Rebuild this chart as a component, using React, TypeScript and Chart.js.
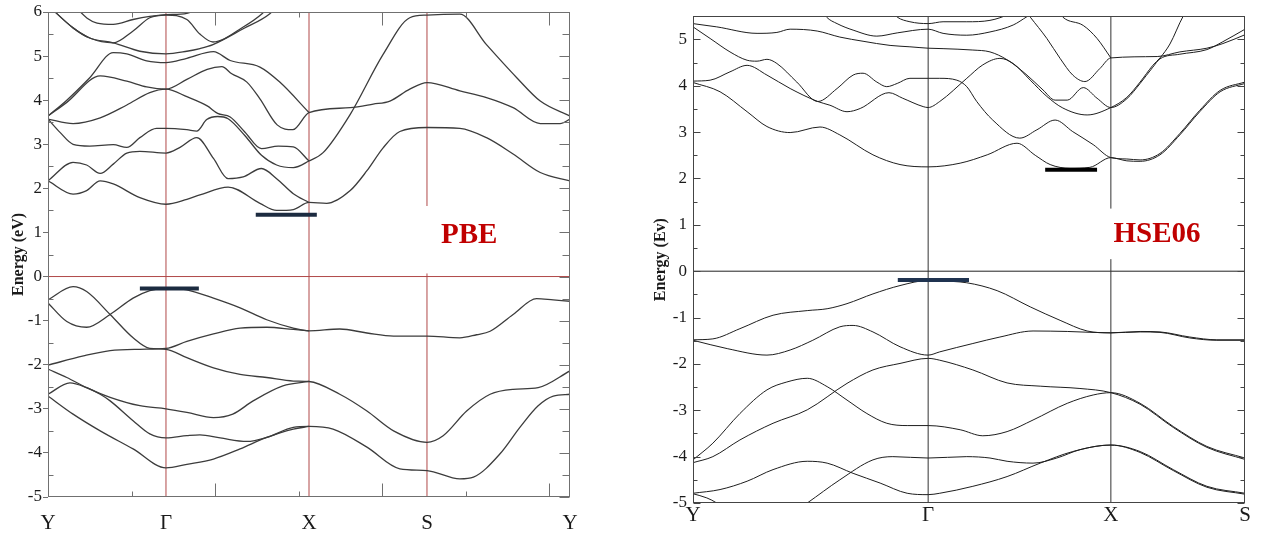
import React, { useEffect, useRef } from "react";
import { Chart, registerables } from "chart.js";

Chart.register(...registerables);

type Pt = [number, number];

// ================= PBE panel (left) =================
const pbeKPoints = [0, 0.226, 0.5, 0.726, 1];
const pbeKLabels = ["Y", "Γ", "X", "S", "Y"];
const pbeEnergyTicks = [-5, -4, -3, -2, -1, 0, 1, 2, 3, 4, 5, 6];

const pbeConduction: Pt[][] = [
  [[0, 2.17], [0.048, 1.87], [0.074, 1.95], [0.1, 2.17], [0.125, 2.1], [0.176, 1.79], [0.226, 1.64], [0.266, 1.75], [0.291, 1.85], [0.345, 2.03], [0.406, 1.66], [0.438, 1.5], [0.47, 1.52], [0.5, 1.68], [0.534, 1.66], [0.579, 1.95], [0.611, 2.4], [0.642, 2.92], [0.674, 3.29], [0.726, 3.38], [0.789, 3.36], [0.84, 3.15], [0.891, 2.78], [0.943, 2.36], [1, 2.17]],
  [[0, 2.17], [0.048, 2.59], [0.074, 2.53], [0.1, 2.34], [0.125, 2.55], [0.151, 2.8], [0.176, 2.84], [0.226, 2.8], [0.253, 2.93], [0.285, 3.15], [0.317, 2.68], [0.345, 2.22], [0.374, 2.26], [0.409, 2.45], [0.438, 2.22], [0.47, 1.88], [0.5, 1.68]],
  [[0, 3.57], [0.023, 3.27], [0.048, 3.0], [0.08, 2.96], [0.125, 2.99], [0.151, 2.93], [0.176, 3.15], [0.208, 3.36], [0.226, 3.36], [0.266, 3.33], [0.285, 3.3], [0.304, 3.56], [0.325, 3.63], [0.345, 3.58], [0.377, 3.2], [0.409, 2.75], [0.438, 2.53], [0.47, 2.47], [0.5, 2.62], [0.527, 2.81], [0.579, 3.68], [0.642, 5.04], [0.693, 5.87], [0.726, 5.93], [0.789, 5.95], [0.84, 5.26], [0.898, 4.51], [0.943, 3.98], [1, 3.64]],
  [[0, 3.57], [0.048, 3.47], [0.1, 3.6], [0.151, 3.89], [0.195, 4.17], [0.226, 4.25], [0.266, 4.08], [0.305, 3.87], [0.325, 3.7], [0.349, 3.62], [0.377, 3.28], [0.409, 2.9], [0.441, 2.96], [0.47, 2.94], [0.5, 2.62]],
  [[0, 3.64], [0.036, 3.95], [0.1, 4.55], [0.151, 4.43], [0.189, 4.3], [0.226, 4.25], [0.266, 4.47], [0.305, 4.7], [0.333, 4.76], [0.352, 4.6], [0.381, 4.41], [0.406, 4.03], [0.439, 3.44], [0.469, 3.33], [0.5, 3.72], [0.579, 3.83], [0.623, 3.91], [0.655, 3.98], [0.693, 4.25], [0.726, 4.4], [0.789, 4.21], [0.84, 4.06], [0.891, 3.83], [0.943, 3.47], [0.981, 3.47], [1, 3.57]],
  [[0, 3.64], [0.036, 4.0], [0.08, 4.51], [0.125, 5.08], [0.151, 5.05], [0.189, 4.89], [0.226, 4.85], [0.266, 4.95], [0.317, 5.1], [0.349, 4.9], [0.406, 4.75], [0.444, 4.41], [0.5, 3.72]],
  [[0, 6.15], [0.048, 5.64], [0.08, 5.41], [0.125, 5.3], [0.176, 5.11], [0.226, 5.05], [0.266, 5.11], [0.291, 5.17], [0.316, 5.26], [0.374, 5.62], [0.425, 5.96], [0.44, 6.15]],
  [[0, 6.15], [0.048, 5.64], [0.08, 5.41], [0.125, 5.3], [0.163, 5.57], [0.195, 5.87], [0.226, 5.93], [0.266, 5.83], [0.291, 5.5], [0.316, 5.32], [0.374, 5.66], [0.41, 5.96], [0.425, 6.15]],
  [[0.05, 6.15], [0.075, 5.86], [0.094, 5.75], [0.125, 5.72], [0.163, 5.83], [0.195, 5.9], [0.226, 5.94], [0.266, 5.97], [0.3, 6.15]],
];

const pbeValence: Pt[][] = [
  [[0, -0.6], [0.036, -1.02], [0.074, -1.15], [0.119, -0.86], [0.163, -0.49], [0.195, -0.32], [0.226, -0.26], [0.266, -0.3], [0.317, -0.49], [0.368, -0.71], [0.419, -0.98], [0.47, -1.17], [0.5, -1.23], [0.559, -1.19], [0.611, -1.28], [0.662, -1.35], [0.726, -1.35], [0.789, -1.39], [0.821, -1.32], [0.847, -1.24], [0.891, -0.86], [0.936, -0.5], [0.968, -0.53], [1, -0.56]],
  [[0, -0.53], [0.048, -0.23], [0.074, -0.34], [0.119, -0.86], [0.163, -1.39], [0.195, -1.63], [0.226, -1.65], [0.266, -1.84], [0.317, -2.07], [0.368, -2.22], [0.419, -2.29], [0.47, -2.37], [0.5, -2.38], [0.559, -2.67], [0.611, -3.05], [0.662, -3.5], [0.726, -3.76], [0.757, -3.61], [0.802, -3.05], [0.847, -2.67], [0.891, -2.56], [0.939, -2.52], [1, -2.14]],
  [[0, -2.01], [0.068, -1.8], [0.119, -1.68], [0.176, -1.65], [0.226, -1.63], [0.266, -1.47], [0.317, -1.3], [0.368, -1.17], [0.419, -1.15], [0.47, -1.2], [0.5, -1.23]],
  [[0, -2.1], [0.036, -2.29], [0.074, -2.52], [0.119, -2.74], [0.176, -2.93], [0.226, -3.0], [0.266, -3.08], [0.317, -3.2], [0.354, -3.12], [0.393, -2.82], [0.45, -2.48], [0.5, -2.38]],
  [[0, -2.67], [0.042, -2.41], [0.074, -2.52], [0.1, -2.67], [0.119, -2.82], [0.163, -3.27], [0.195, -3.57], [0.226, -3.66], [0.266, -3.61], [0.291, -3.59], [0.33, -3.66], [0.381, -3.74], [0.419, -3.65], [0.47, -3.42], [0.5, -3.4], [0.546, -3.46], [0.611, -3.87], [0.674, -4.36], [0.726, -4.4], [0.789, -4.59], [0.815, -4.55], [0.866, -4.02], [0.904, -3.42], [0.939, -2.93], [0.968, -2.71], [1, -2.67]],
  [[0, -2.71], [0.048, -3.12], [0.1, -3.5], [0.163, -3.91], [0.226, -4.34], [0.266, -4.26], [0.317, -4.14], [0.368, -3.91], [0.419, -3.65], [0.47, -3.46], [0.5, -3.4]],
];

const pbeVBM: Pt[] = [[0.176, -0.27], [0.289, -0.27]];
const pbeCBM: Pt[] = [[0.398, 1.4], [0.515, 1.4]];
const pbeLineGap: Pt = [0.07, 1.6]; // break in the S line around the label

// ================= HSE06 panel (right) =================
const hseKPoints = [0, 0.426, 0.757, 1];
const hseKLabels = ["Y", "Γ", "X", "S"];
const hseEnergyTicks = [-5, -4, -3, -2, -1, 0, 1, 2, 3, 4, 5];

const hseConduction: Pt[][] = [
  [[0, 4.07], [0.049, 3.87], [0.098, 3.44], [0.134, 3.12], [0.176, 2.99], [0.23, 3.11], [0.266, 2.94], [0.326, 2.51], [0.375, 2.3], [0.426, 2.25], [0.484, 2.33], [0.533, 2.51], [0.587, 2.76], [0.62, 2.5], [0.647, 2.3], [0.683, 2.22], [0.719, 2.24], [0.757, 2.45], [0.786, 2.38], [0.81, 2.37], [0.846, 2.51], [0.882, 2.94], [0.918, 3.44], [0.955, 3.87], [1, 4.05]],
  [[0, 4.1], [0.031, 4.12], [0.067, 4.3], [0.098, 4.44], [0.134, 4.23], [0.176, 3.94], [0.226, 3.66], [0.248, 3.58], [0.279, 3.44], [0.303, 3.51], [0.355, 3.85], [0.38, 3.73], [0.417, 3.55], [0.426, 3.53], [0.447, 3.66], [0.496, 4.16], [0.525, 4.45], [0.556, 4.59], [0.58, 4.48], [0.611, 4.12], [0.641, 3.77], [0.67, 3.52], [0.714, 3.37], [0.757, 3.53], [0.786, 3.75], [0.81, 4.08], [0.833, 4.44], [0.846, 4.6], [0.864, 4.9], [0.888, 5.5], [0.9, 5.7]],
  [[0, 5.27], [0.031, 5.02], [0.067, 4.73], [0.098, 4.55], [0.116, 4.53], [0.134, 4.57], [0.152, 4.48], [0.188, 4.08], [0.226, 3.66], [0.261, 3.94], [0.29, 4.23], [0.308, 4.27], [0.333, 4.08], [0.351, 3.98], [0.37, 4.05], [0.393, 4.16], [0.426, 4.16], [0.447, 4.16], [0.478, 4.12], [0.496, 3.98], [0.514, 3.66], [0.543, 3.26], [0.592, 2.87], [0.623, 3.05], [0.656, 3.26], [0.688, 3.01], [0.725, 2.73], [0.757, 2.45], [0.786, 2.42], [0.81, 2.4], [0.846, 2.54], [0.882, 2.97], [0.918, 3.47], [0.955, 3.9], [1, 4.08]],
  [[0, 5.34], [0.043, 5.27], [0.116, 5.13], [0.152, 5.15], [0.176, 5.22], [0.225, 5.18], [0.266, 5.05], [0.308, 4.96], [0.357, 4.87], [0.393, 4.84], [0.426, 4.81], [0.453, 4.8], [0.507, 4.77], [0.538, 4.73], [0.569, 4.56], [0.605, 4.23], [0.634, 3.91], [0.656, 3.69], [0.678, 3.69], [0.707, 3.96], [0.732, 3.73], [0.757, 3.53], [0.786, 3.72], [0.81, 4.05], [0.833, 4.4], [0.846, 4.58], [0.882, 4.68], [0.931, 4.78], [0.96, 4.95], [1, 5.22]],
  [[0.235, 5.6], [0.242, 5.48], [0.261, 5.34], [0.29, 5.2], [0.333, 5.07], [0.37, 5.14], [0.426, 5.22], [0.453, 5.13], [0.496, 5.09], [0.538, 5.16], [0.58, 5.31], [0.605, 5.49], [0.62, 5.6]],
  [[0.36, 5.6], [0.37, 5.48], [0.393, 5.38], [0.426, 5.34], [0.453, 5.38], [0.496, 5.38], [0.538, 5.41], [0.574, 5.55], [0.59, 5.65]],
  [[0.6, 5.65], [0.611, 5.48], [0.641, 5.02], [0.665, 4.59], [0.688, 4.23], [0.71, 4.09], [0.737, 4.37], [0.757, 4.6], [0.841, 4.63], [0.882, 4.73], [0.931, 4.81], [0.96, 4.91], [1, 5.1]],
  [[0.66, 5.65], [0.67, 5.48], [0.707, 5.3], [0.732, 5.02], [0.757, 4.6]],
];

const hseValence: Pt[][] = [
  [[0, -1.48], [0.036, -1.46], [0.085, -1.24], [0.145, -0.95], [0.207, -0.85], [0.243, -0.81], [0.279, -0.7], [0.326, -0.49], [0.375, -0.31], [0.426, -0.2], [0.447, -0.21], [0.496, -0.25], [0.551, -0.42], [0.611, -0.77], [0.665, -1.06], [0.714, -1.29], [0.757, -1.33], [0.81, -1.3], [0.846, -1.31], [0.9, -1.42], [0.949, -1.48], [1, -1.48]],
  [[0, -1.49], [0.062, -1.67], [0.134, -1.81], [0.176, -1.7], [0.217, -1.49], [0.266, -1.2], [0.29, -1.17], [0.326, -1.31], [0.375, -1.63], [0.426, -1.81], [0.447, -1.74], [0.507, -1.56], [0.556, -1.42], [0.616, -1.29], [0.678, -1.3], [0.757, -1.33], [0.81, -1.31], [0.846, -1.32], [0.9, -1.44], [0.949, -1.49], [1, -1.49]],
  [[0, -4.07], [0.036, -3.71], [0.085, -3.07], [0.134, -2.56], [0.17, -2.39], [0.207, -2.31], [0.243, -2.49], [0.279, -2.78], [0.315, -3.07], [0.351, -3.28], [0.388, -3.33], [0.426, -3.33], [0.484, -3.42], [0.525, -3.55], [0.569, -3.46], [0.616, -3.21], [0.678, -2.85], [0.725, -2.67], [0.757, -2.62], [0.81, -2.85], [0.87, -3.35], [0.931, -3.78], [1, -4.03]],
  [[0, -4.13], [0.036, -4.0], [0.085, -3.64], [0.145, -3.28], [0.207, -2.99], [0.279, -2.42], [0.326, -2.13], [0.375, -1.99], [0.426, -1.88], [0.447, -1.92], [0.507, -2.13], [0.569, -2.41], [0.629, -2.48], [0.701, -2.53], [0.757, -2.62], [0.81, -2.87], [0.87, -3.37], [0.931, -3.8], [1, -4.06]],
  [[0, -4.79], [0.049, -4.71], [0.098, -4.53], [0.145, -4.28], [0.207, -4.1], [0.243, -4.14], [0.29, -4.36], [0.339, -4.57], [0.388, -4.79], [0.426, -4.82], [0.447, -4.79], [0.507, -4.64], [0.569, -4.43], [0.629, -4.14], [0.688, -3.89], [0.757, -3.75], [0.81, -3.89], [0.87, -4.28], [0.931, -4.64], [1, -4.79]],
  [[0.17, -5.3], [0.207, -5.0], [0.266, -4.5], [0.326, -4.07], [0.362, -4.0], [0.426, -4.03], [0.496, -4.0], [0.538, -4.03], [0.569, -4.1], [0.616, -4.14], [0.659, -4.03], [0.701, -3.85], [0.757, -3.75], [0.81, -3.91], [0.87, -4.3], [0.931, -4.66], [1, -4.81]],
  [[0, -4.8], [0.025, -4.89], [0.043, -5.0], [0.07, -5.25]],
];

const hseVBM: Pt[] = [[0.371, -0.19], [0.5, -0.19]];
const hseCBM: Pt[] = [[0.638, 2.19], [0.732, 2.19]];
const hseLineGap: Pt = [0.26, 1.35]; // break in the X line around the label

// ================= helpers =================
const SERIF = "'Liberation Serif', 'Times New Roman', serif";

const toXY = (pts: Pt[]) => pts.map(([x, y]) => ({ x, y }));

function straight(pts: Pt[], color: string, width: number, order: number) {
  return {
    data: toXY(pts),
    borderColor: color,
    borderWidth: width,
    pointRadius: 0,
    tension: 0,
    fill: false,
    order,
  };
}

function band(pts: Pt[], color: string, width: number) {
  return {
    data: toXY(pts),
    borderColor: color,
    borderWidth: width,
    pointRadius: 0,
    cubicInterpolationMode: "monotone",
    fill: false,
    order: 5,
  };
}

const panelDecor = {
  id: "panelDecor",
  afterDatasetsDraw(chart: any, _args: any, o: any) {
    const { ctx, chartArea: a, scales } = chart;
    const xs = scales.x;
    const ys = scales.y;
    ctx.save();
    ctx.strokeStyle = o.frameColor;
    ctx.lineWidth = 1;
    const L = Math.round(a.left) + 0.5;
    const R = Math.round(a.right) - 0.5;
    const T = Math.round(a.top) + 0.5;
    const B = Math.round(a.bottom) - 0.5;
    ctx.strokeRect(L, T, R - L, B - T);
    ctx.beginPath();
    for (let v = ys.min; v <= ys.max + 1e-9; v += 0.5) {
      const y = Math.round(ys.getPixelForValue(v)) + 0.5;
      const major = Math.abs(v - Math.round(v)) < 1e-6;
      const lL = major ? o.leftMajor : o.leftMinor;
      const rL = major ? o.rightMajor : o.rightMinor;
      if (lL) {
        ctx.moveTo(L, y);
        ctx.lineTo(L + lL, y);
      }
      if (rL) {
        ctx.moveTo(R, y);
        ctx.lineTo(R - rL, y);
      }
    }
    const xt: [number[], number][] = [
      [o.xMajorAt || [], o.xMajor || 0],
      [o.xMinorAt || [], o.xMinor || 0],
    ];
    for (const [list, len] of xt) {
      for (const k of list) {
        const x = Math.round(xs.getPixelForValue(k)) + 0.5;
        ctx.moveTo(x, T);
        ctx.lineTo(x, T + len);
        ctx.moveTo(x, B);
        ctx.lineTo(x, B - len);
      }
    }
    ctx.stroke();
    ctx.fillStyle = o.labelColor;
    ctx.font = o.labelFont;
    ctx.textAlign = "center";
    ctx.textBaseline = "middle";
    ctx.fillText(o.label, xs.getPixelForValue(o.labelAt[0]), ys.getPixelForValue(o.labelAt[1]));
    ctx.restore();
  },
};

interface Panel {
  kPoints: number[];
  kLabels: string[];
  eTicks: number[];
  eMin: number;
  eMax: number;
  conduction: Pt[][];
  valence: Pt[][];
  vbm: Pt[];
  cbm: Pt[];
  gapAt: number;
  gap: Pt;
  title: string;
  label: string;
  labelAt: Pt;
  bandColor: string;
  bandWidth: number;
  lineColor: string;
  zeroColor: string;
  vbmColor: string;
  cbmColor: string;
  frameColor: string;
  yAxisWidth: number;
  xAxisHeight: number;
  padding: { left: number; right: number; top: number; bottom: number };
  yTickPad: number;
  yTickMark: number;
  xTickPad: number;
  titlePad: number;
  decor: any;
}

function buildConfig(p: Panel): any {
  const datasets: any[] = [];
  p.kPoints.forEach((k, i) => {
    if (i === 0 || i === p.kPoints.length - 1) return;
    if (i === p.gapAt) {
      datasets.push(straight([[k, p.eMin], [k, p.gap[0]]], p.lineColor, 1, 10));
      datasets.push(straight([[k, p.gap[1]], [k, p.eMax]], p.lineColor, 1, 10));
    } else {
      datasets.push(straight([[k, p.eMin], [k, p.eMax]], p.lineColor, 1, 10));
    }
  });
  datasets.push(straight([[0, 0], [1, 0]], p.zeroColor, 1, 10));
  for (const b of p.conduction) datasets.push(band(b, p.bandColor, p.bandWidth));
  for (const b of p.valence) datasets.push(band(b, p.bandColor, p.bandWidth));
  datasets.push(straight(p.vbm, p.vbmColor, 4, 0));
  datasets.push(straight(p.cbm, p.cbmColor, 4, 0));

  return {
    type: "line",
    data: { datasets },
    options: {
      responsive: false,
      animation: false,
      devicePixelRatio: 1,
      layout: { padding: p.padding },
      plugins: {
        legend: { display: false },
        tooltip: { enabled: false },
        panelDecor: { ...p.decor, label: p.label, labelAt: p.labelAt },
      },
      scales: {
        x: {
          type: "linear",
          min: 0,
          max: 1,
          afterBuildTicks: (s: any) => {
            s.ticks = p.kPoints.map((v) => ({ value: v }));
          },
          afterFit: (s: any) => {
            s.height = p.xAxisHeight;
          },
          ticks: {
            autoSkip: false,
            maxRotation: 0,
            padding: p.xTickPad,
            color: "#1a1a1a",
            font: { family: SERIF, size: 21 },
            callback: (_v: any, i: number) => p.kLabels[i],
          },
          grid: { display: false, drawTicks: false },
          border: { display: false },
        },
        y: {
          type: "linear",
          min: p.eMin,
          max: p.eMax,
          afterBuildTicks: (s: any) => {
            s.ticks = p.eTicks.map((v) => ({ value: v }));
          },
          afterFit: (s: any) => {
            s.width = p.yAxisWidth;
          },
          ticks: {
            padding: p.yTickPad,
            color: "#1a1a1a",
            font: { family: SERIF, size: 17 },
            callback: (v: any) => String(v),
          },
          grid: {
            display: p.yTickMark > 0,
            drawOnChartArea: false,
            drawTicks: p.yTickMark > 0,
            tickLength: p.yTickMark,
            color: p.frameColor,
          },
          border: { display: false },
          title: {
            display: true,
            text: p.title,
            color: "#1a1a1a",
            font: { family: SERIF, size: 16, weight: "bold" },
            padding: { top: p.titlePad, bottom: 0 },
          },
        },
      },
    },
    plugins: [panelDecor],
  };
}

const pbePanel: Panel = {
  kPoints: pbeKPoints,
  kLabels: pbeKLabels,
  eTicks: pbeEnergyTicks,
  eMin: -5,
  eMax: 6,
  conduction: pbeConduction,
  valence: pbeValence,
  vbm: pbeVBM,
  cbm: pbeCBM,
  gapAt: 3,
  gap: pbeLineGap,
  title: "Energy (eV)",
  label: "PBE",
  labelAt: [0.807, 0.93],
  bandColor: "#3c3c3c",
  bandWidth: 1.3,
  lineColor: "#b04848",
  zeroColor: "#b04848",
  vbmColor: "#1c2b40",
  cbmColor: "#1c2b40",
  frameColor: "#707070",
  yAxisWidth: 48,
  xAxisHeight: 38,
  padding: { left: 0, right: 60, top: 12, bottom: 0 },
  yTickPad: 1,
  yTickMark: 5,
  xTickPad: 14,
  titlePad: 9,
  decor: {
    frameColor: "#707070",
    leftMajor: 0,
    leftMinor: 5,
    rightMajor: 10,
    rightMinor: 7,
    xMajorAt: [0.32, 0.64, 0.96],
    xMinorAt: [0.16, 0.48, 0.8],
    xMajor: 13,
    xMinor: 5,
    labelColor: "#c00000",
    labelFont: `bold 29px ${SERIF}`,
  },
};

const hsePanel: Panel = {
  kPoints: hseKPoints,
  kLabels: hseKLabels,
  eTicks: hseEnergyTicks,
  eMin: -5,
  eMax: 5.5,
  conduction: hseConduction,
  valence: hseValence,
  vbm: hseVBM,
  cbm: hseCBM,
  gapAt: 2,
  gap: hseLineGap,
  title: "Energy (Ev)",
  label: "HSE06",
  labelAt: [0.8406, 0.8],
  bandColor: "#1e1e1e",
  bandWidth: 1,
  lineColor: "#333333",
  zeroColor: "#222222",
  vbmColor: "#1f3350",
  cbmColor: "#000000",
  frameColor: "#444444",
  yAxisWidth: 53,
  xAxisHeight: 32,
  padding: { left: 0, right: 17, top: 15, bottom: 0 },
  yTickPad: 6,
  yTickMark: 0,
  xTickPad: 0,
  titlePad: 11,
  decor: {
    frameColor: "#444444",
    leftMajor: 7,
    leftMinor: 4,
    rightMajor: 7,
    rightMinor: 4,
    xMajorAt: [],
    xMinorAt: [],
    xMajor: 0,
    xMinor: 0,
    labelColor: "#c00000",
    labelFont: `bold 29px ${SERIF}`,
  },
};

function PanelChart({ panel, left, width }: { panel: Panel; left: number; width: number }) {
  const ref = useRef<HTMLCanvasElement | null>(null);
  useEffect(() => {
    if (!ref.current) return;
    const chart = new Chart(ref.current, buildConfig(panel));
    return () => chart.destroy();
  }, [panel]);
  return (
    <canvas
      ref={ref}
      width={width}
      height={535}
      style={{ position: "absolute", left, top: 0, width, height: 535 }}
    />
  );
}

export default function App() {
  return (
    <div style={{ position: "absolute", left: 0, top: 0, width: 1262, height: 535, background: "#ffffff" }}>
      <PanelChart panel={pbePanel} left={0} width={630} />
      <PanelChart panel={hsePanel} left={640} width={622} />
    </div>
  );
}
